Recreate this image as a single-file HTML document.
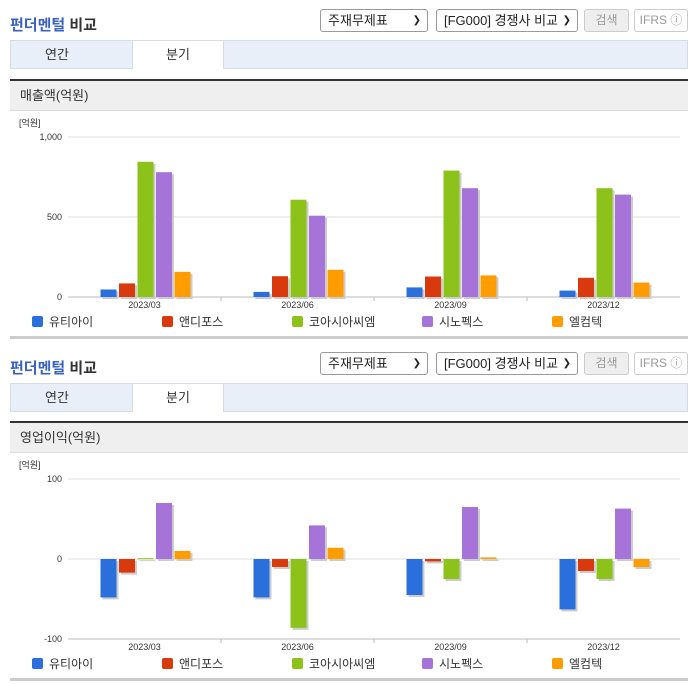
<!DOCTYPE html>
<html><head><meta charset="utf-8">
<style>
*{margin:0;padding:0;box-sizing:border-box}
body{width:696px;height:684px;background:#fff;font-family:"Liberation Sans","Noto Sans CJK KR",sans-serif;position:relative;overflow:hidden;color:#333}
.abs{position:absolute}
.title{left:10px;font-size:15px;font-weight:bold;color:#333}
.title span{color:#3a63c0}
.sel{height:23px;border:1px solid #999;border-radius:3px;font-size:13px;line-height:21px;padding-left:7px;background:#fff;color:#222}
.sel i{position:absolute;right:6px;top:0;font-style:normal;font-size:10px}
.btn{height:23px;border:1px solid #ccc;border-radius:3px;font-size:12px;line-height:21px;text-align:center;color:#999}
.tabs{left:10px;width:678px;height:29px;background:#e9eff8;border:1px solid #d5dce6}
.tab{position:absolute;top:-1px;height:29px;width:92px;text-align:center;font-size:13px;line-height:29px;color:#333}
.tab.on{background:#fff;border:1px solid #d5dce6;border-bottom:none;left:121px;line-height:27px}
.bar{left:10px;width:678px;height:2px;background:#333}
.hdr{left:10px;width:678px;height:30px;background:#efefef;border-bottom:1px solid #ddd;font-size:13px;line-height:30px;padding-left:10px;color:#333}
.bot{left:10px;width:678px;height:3px;background:#ccc}
</style></head><body>
<script>
const cats=["2023/03","2023/06","2023/09","2023/12"];
const names=["유티아이","앤디포스","코아시아씨엠","시노펙스","엘컴텍"];
const colors=["#2a6fdb","#d83a0e","#8cc21a","#a673d9","#ff9c00"];
const sales1=[47,32,60,40];
const sales2=[85,130,128,120];
const sales3=[845,608,790,680];
const sales4=[780,508,680,640];
const sales5=[157,170,135,90];
const op1=[-48,-48,-45,-63];
const op2=[-17,-10,-3,-15];
const op3=[1,-86,-25,-25];
const op4=[70,42,65,63];
const op5=[10,14,2,-10];
const ticks1=[0,500,1000];
const ticks2=[-100,0,100];
</script>

<div class="abs title" style="top:14px"><span>펀더멘털</span> 비교</div>
<div class="abs sel" style="left:320px;top:9px;width:108px">주재무제표<i>❯</i></div>
<div class="abs sel" style="left:436px;top:9px;width:142px">[FG000] 경쟁사 비교<i>❯</i></div>
<div class="abs btn" style="left:584px;top:9px;width:45px;background:#eee">검색</div>
<div class="abs btn" style="left:634px;top:9px;width:54px">IFRS ⓘ</div>
<div class="abs tabs" style="top:40px">
<div class="tab" style="left:0">연간</div>
<div class="tab on">분기</div></div>
<div class="abs bar" style="top:79px"></div>
<div class="abs hdr" style="top:81px">매출액(억원)</div>
<svg class="abs" id="c1" style="left:0;top:112px" width="696" height="225"></svg>
<div class="abs bot" style="top:336px"></div>

<div class="abs title" style="top:357px"><span>펀더멘털</span> 비교</div>
<div class="abs sel" style="left:320px;top:352px;width:108px">주재무제표<i>❯</i></div>
<div class="abs sel" style="left:436px;top:352px;width:142px">[FG000] 경쟁사 비교<i>❯</i></div>
<div class="abs btn" style="left:584px;top:352px;width:45px;background:#eee">검색</div>
<div class="abs btn" style="left:634px;top:352px;width:54px">IFRS ⓘ</div>
<div class="abs tabs" style="top:383px">
<div class="tab" style="left:0">연간</div>
<div class="tab on">분기</div></div>
<div class="abs bar" style="top:421px"></div>
<div class="abs hdr" style="top:423px">영업이익(억원)</div>
<svg class="abs" id="c2" style="left:0;top:454px" width="696" height="225"></svg>
<div class="abs bot" style="top:678px"></div>

<script>
const NS="http://www.w3.org/2000/svg";
function mk(svg,tag,a,txt){const e=document.createElementNS(NS,tag);for(const k in a)e.setAttribute(k,a[k]);if(txt!==undefined)e.textContent=txt;svg.appendChild(e);return e;}
function draw(id,series,ticks,yTop,yBot,vmin,vmax,tickFmt){
  const svg=document.getElementById(id);
  const x0=68,x1=680,gw=(x1-x0)/cats.length;
  const y=v=>yBot-(v-vmin)/(vmax-vmin)*(yBot-yTop);
  let t=mk(svg,'text',{x:19,y:14,'font-size':9,fill:'#333'},'[억원]');
  
  ticks.forEach(v=>{
    const g=mk(svg,'line',{x1:x0,x2:x1,y1:y(v),y2:y(v),stroke:'#ddd','stroke-width':1});
    
    const l=mk(svg,'text',{x:62,y:y(v)+3,'font-size':9,fill:'#333','text-anchor':'end'},tickFmt(v));
    
  });
  mk(svg,'line',{x1:x0,x2:x1,y1:yBot,y2:yBot,stroke:'#bbb'});
  for(let i=1;i<cats.length;i++) mk(svg,'line',{x1:x0+gw*i,x2:x0+gw*i,y1:yBot,y2:yBot+4,stroke:'#bbb'});
  cats.forEach((c,i)=>{
    const cx=x0+gw*(i+0.5);
    const l=mk(svg,'text',{x:cx,y:yBot+11,'font-size':9,fill:'#333','text-anchor':'middle'},c);
    
    series.forEach((s,j)=>{
      const v=s[i],bx=cx-44+j*18.5,y0=y(0),yv=y(v);
      const top=Math.min(y0,yv),h=Math.max(Math.abs(y0-yv),1);
      mk(svg,'rect',{x:bx+2,y:top+2,width:16,height:h,fill:'#ccc'});
      const r=mk(svg,'rect',{x:bx,y:top,width:16,height:h,fill:colors[j]});
      
    });
  });
  const lx=[32,162,292,422,552];
  names.forEach((n,j)=>{
    const r=mk(svg,'rect',{x:lx[j],y:yBot+19,width:11,height:11,rx:2,fill:colors[j]});
    
    const t=mk(svg,'text',{x:lx[j]+17,y:yBot+29,'font-size':12,fill:'#333'},n);
    
  });
}
draw('c1',[sales1,sales2,sales3,sales4,sales5],ticks1,25,185,0,1000,v=>v.toLocaleString('en-US'));
draw('c2',[op1,op2,op3,op4,op5],ticks2,25,185,-100,100,v=>String(v));
</script>
</body></html>
